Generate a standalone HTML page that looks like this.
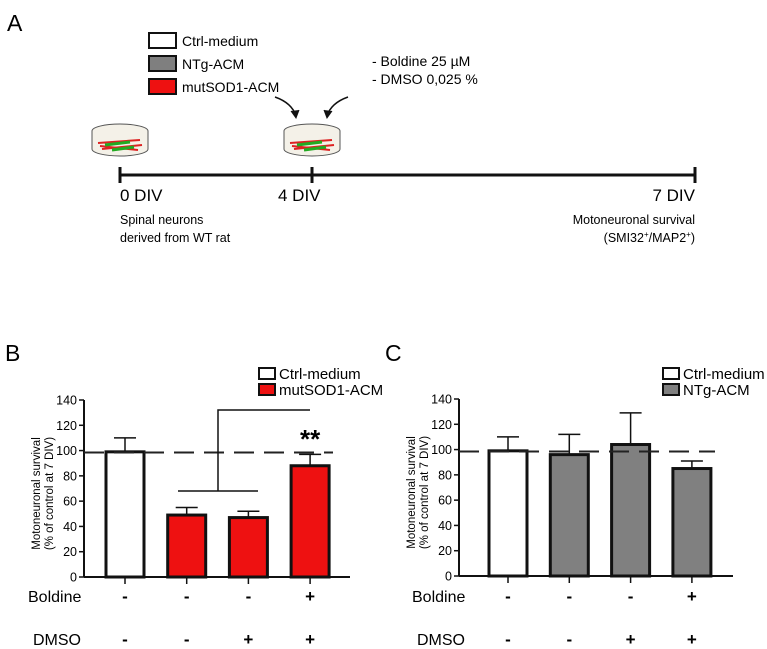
<!DOCTYPE html>
<html><head><meta charset="utf-8"><style>
body{margin:0;background:#fff;}
svg{display:block;font-family:"Liberation Sans",Arial,sans-serif;}
</style></head><body>
<svg id="fig" width="767" height="649" viewBox="0 0 767 649">
<g>
<text x="7" y="31" font-size="23">A</text>
<rect x="149" y="33" width="27" height="15" fill="#fff" stroke="#111" stroke-width="2"/>
<text x="182" y="46" font-size="14">Ctrl-medium</text>
<rect x="149" y="56" width="27" height="15" fill="#7f7f7f" stroke="#111" stroke-width="2"/>
<text x="182" y="69" font-size="14">NTg-ACM</text>
<rect x="149" y="79" width="27" height="15" fill="#ee1111" stroke="#111" stroke-width="2"/>
<text x="182" y="92" font-size="14">mutSOD1-ACM</text>
<text x="372" y="66" font-size="14">- Boldine 25 µM</text>
<text x="372" y="84" font-size="14">- DMSO 0,025 %</text>
<path d="M275,97 Q292,103 296,116" fill="none" stroke="#111" stroke-width="1.5"/>
<path d="M291,111 L296,118 L299,110" fill="#111" stroke="#111"/>
<path d="M348,97 Q331,103 327,116" fill="none" stroke="#111" stroke-width="1.5"/>
<path d="M324,110 L327,118 L332,111" fill="#111" stroke="#111"/>
<g transform="translate(120,0)">
<ellipse cx="0" cy="131" rx="28" ry="7" fill="#f4f1e8" stroke="#555"/>
<path d="M-28,131 V149 A28,7 0 0 0 28,149 V131" fill="#f4f1e8" stroke="#555"/>
<path d="M-22,143 L20,140 M-18,149 L22,145 M-20,146 L18,150" stroke="#d22" stroke-width="2"/>
<path d="M-15,145 L10,142 M-8,150 L14,147" stroke="#2a2" stroke-width="3"/>
</g>
<g transform="translate(312,0)">
<ellipse cx="0" cy="131" rx="28" ry="7" fill="#f4f1e8" stroke="#555"/>
<path d="M-28,131 V149 A28,7 0 0 0 28,149 V131" fill="#f4f1e8" stroke="#555"/>
<path d="M-22,143 L20,140 M-18,149 L22,145 M-20,146 L18,150" stroke="#d22" stroke-width="2"/>
<path d="M-15,145 L10,142 M-8,150 L14,147" stroke="#2a2" stroke-width="3"/>
</g>
<line x1="120" y1="175" x2="695" y2="175" stroke="#111" stroke-width="3"/>
<path d="M120,167 V183 M312,167 V183 M695,167 V183" stroke="#111" stroke-width="3"/>
<text x="120" y="201" font-size="17">0 DIV</text>
<text x="278" y="201" font-size="17">4 DIV</text>
<text x="695" y="201" font-size="17" text-anchor="end">7 DIV</text>
<text x="120" y="224" font-size="12.5">Spinal neurons</text>
<text x="120" y="242" font-size="12.5">derived from WT rat</text>
<text x="695" y="224" font-size="12.5" text-anchor="end">Motoneuronal survival</text>
<text x="695" y="242" font-size="12.5" text-anchor="end">(SMI32<tspan font-size="8" dy="-5">+</tspan><tspan dy="5">/MAP2</tspan><tspan font-size="8" dy="-5">+</tspan><tspan dy="5">)</tspan></text>
</g>
<text x="5" y="361" font-size="23">B</text>
<text x="385" y="361" font-size="23">C</text>
<g id="chartB"></g>
<g id="chartC"></g>
</svg>
<script>
const categories = ["ctrl", "acm", "acm-dmso", "acm-boldine-dmso"];
const valuesB = [99, 49, 47, 88];
const errorsB = [110, 55, 52, 97];
const colorsB = ["#ffffff", "#ee1111", "#ee1111", "#ee1111"];
const valuesC = [99, 96, 104, 85];
const errorsC = [110, 112, 129, 91];
const colorsC = ["#ffffff", "#808080", "#808080", "#808080"];
const yTicks = [0, 20, 40, 60, 80, 100, 120, 140];
const boldine = ["-", "-", "-", "+"];
const dmso = ["-", "-", "+", "+"];
const refLine = 98.5;
const NS = "http://www.w3.org/2000/svg";
function mk(parent, tag, attrs, txt){const e=document.createElementNS(NS,tag);for(const k in attrs)e.setAttribute(k,attrs[k]);if(txt!==undefined)e.textContent=txt;parent.appendChild(e);return e;}
function drawChart(g, cfg){
  const y0=cfg.y0, y1=cfg.y1, ax=cfg.ax;
  const yScale=v=>y0-(v/140)*(y0-y1);
  const xScale=i=>cfg.c0+i*cfg.step;
  const bw=38;
  let e=mk(g,'line',{x1:ax,y1:y1,x2:ax,y2:y0,stroke:'#111','stroke-width':2});
  
  
  e=mk(g,'line',{x1:ax,y1:y0,x2:cfg.axEnd,y2:y0,stroke:'#111','stroke-width':2});
  
  
  yTicks.forEach(t=>{
    const y=yScale(t);
    mk(g,'line',{x1:ax-5,y1:y,x2:ax,y2:y,stroke:'#111','stroke-width':1.5});
    e=mk(g,'text',{x:ax-7,y:y+4.5,'font-size':12.5,'text-anchor':'end'},String(t));
    
    
  });
  const lx=cfg.ax-44, ly=(y0+y1)/2+5;
  e=mk(g,'text',{x:0,y:0,'font-size':11.5,'text-anchor':'middle',transform:`translate(${lx},${ly}) rotate(-90)`},'Motoneuronal survival');
  
  
  e=mk(g,'text',{x:0,y:0,'font-size':11.5,'text-anchor':'middle',transform:`translate(${lx+13},${ly}) rotate(-90)`},'(% of control at 7 DIV)');
  
  
  cfg.values.forEach((v,i)=>{
    const cx=xScale(i);
    const ey=yScale(cfg.errors[i]);
    e=mk(g,'path',{d:`M${cx},${yScale(v)} V${ey} M${cx-11},${ey} H${cx+11}`,stroke:'#111','stroke-width':1.5,fill:'none'});
    
    
    e=mk(g,'rect',{x:cx-bw/2,y:yScale(v),width:bw,height:y0-yScale(v),fill:cfg.colors[i],stroke:'#111','stroke-width':3});
    
    
    mk(g,'line',{x1:cx,y1:y0,x2:cx,y2:y0+7,stroke:'#111','stroke-width':1.5});
    e=mk(g,'text',{x:cx,y:602,'font-size':17,'font-weight':'bold','text-anchor':'middle'},boldine[i]);
    
    
    e=mk(g,'text',{x:cx,y:645,'font-size':17,'font-weight':'bold','text-anchor':'middle'},dmso[i]);
    
    
  });
  e=mk(g,'line',{x1:ax,y1:yScale(refLine),x2:cfg.dashEnd,y2:yScale(refLine),stroke:'#222','stroke-width':2,'stroke-dasharray':'20,10'});
  
  
  e=mk(g,'text',{x:cfg.lblX,y:602,'font-size':16},'Boldine');
  
  
  e=mk(g,'text',{x:cfg.lblX+5,y:645,'font-size':16},'DMSO');
  
  
  cfg.legend.forEach((L,k)=>{
    const ly2=368+k*16;
    e=mk(g,'rect',{x:cfg.legX,y:ly2,width:16,height:11,fill:L[1],stroke:'#111','stroke-width':2});
    
    
    e=mk(g,'text',{x:cfg.legX+20,y:ly2+11,'font-size':15},L[0]);
    
    
  });
  return {xScale,yScale};
}
const gB=document.getElementById('chartB');
const sB=drawChart(gB,{y0:577,y1:400,ax:84,axEnd:350,c0:125,step:61.7,dashEnd:333,lblX:28,legX:259,values:valuesB,errors:errorsB,colors:colorsB,legend:[["Ctrl-medium","#fff"],["mutSOD1-ACM","#ee1111"]]});
const br=mk(gB,'path',{d:`M178,491 H258 M218,491 V410 H310`,stroke:'#111','stroke-width':1.5,fill:'none'});


const st=mk(gB,'text',{x:sB.xScale(3),y:448,'font-size':26,'font-weight':'bold','text-anchor':'middle'},'**');


const gC=document.getElementById('chartC');
drawChart(gC,{y0:576,y1:399,ax:459,axEnd:733,c0:508,step:61.3,dashEnd:715,lblX:412,legX:663,values:valuesC,errors:errorsC,colors:colorsC,legend:[["Ctrl-medium","#fff"],["NTg-ACM","#808080"]]});
</script>
</body></html>
